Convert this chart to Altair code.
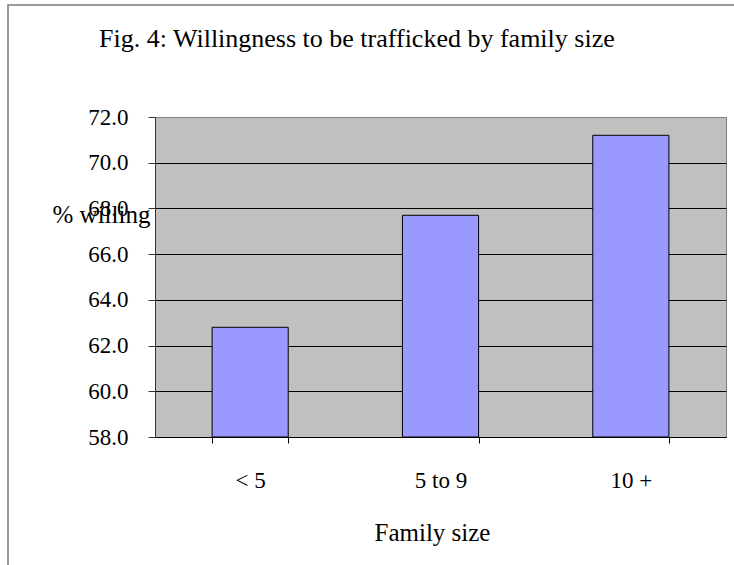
import altair as alt
import pandas as pd

categories = ["< 5", "5 to 9", "10 +"]
pct_willing = [62.8, 67.7, 71.2]
y_ticks = [58, 60, 62, 64, 66, 68, 70, 72]

df = pd.DataFrame({"size": categories, "pct": pct_willing})
FONT = "Liberation Serif"

bars = alt.Chart(df).mark_bar(
    fill="#9999FF", stroke="#000000", strokeWidth=1
).encode(
    x=alt.X("size:N", sort=categories,
            scale=alt.Scale(paddingInner=0.6, paddingOuter=0.3),
            axis=alt.Axis(title="Family size", labelAngle=0, tickBand="extent",
                          tickSize=6, tickColor="#000000", domainColor="#000000",
                          labelFontSize=23, labelPadding=26, labelFont=FONT,
                          labelColor="#000000",
                          titleFont=FONT, titleFontSize=25, titleFontWeight="normal",
                          titleColor="#000000", titleX=277, titleY=103,
                          titleBaseline="alphabetic", titleAlign="center")),
    y=alt.Y("pct:Q",
            scale=alt.Scale(domain=[58, 72], nice=False, zero=False, clamp=True),
            axis=alt.Axis(title="% willing", values=y_ticks, format=".1f",
                          grid=True,
                          gridColor=alt.condition("datum.value == 72",
                                                  alt.value("#808080"),
                                                  alt.value("#000000")),
                          gridWidth=1, tickSize=7, tickColor="#333333",
                          domainColor="#333333",
                          labelFontSize=23, labelPadding=20, labelFont=FONT,
                          labelColor="#000000",
                          titleFont=FONT, titleFontSize=25, titleFontWeight="normal",
                          titleColor="#000000", titleAngle=0, titleAlign="left",
                          titleBaseline="alphabetic", titleX=-103, titleY=105)),
)

# decorative outer frame of the figure (left and top edges visible)
frame = alt.Chart(pd.DataFrame({"k": [0]})).mark_rect(
    fill=None, stroke="#7A7A7A", strokeWidth=1.5
).encode(
    x=alt.value(-147), x2=alt.value(700),
    y=alt.value(-112), y2=alt.value(560),
)

chart = alt.layer(bars, frame).properties(
    width=571, height=320,
    autosize=alt.AutoSizeParams(type="none"),
    padding={"left": 155, "top": 117, "right": 8, "bottom": 128},
    title=alt.TitleParams(
        "Fig. 4: Willingness to be trafficked by family size",
        anchor="start", frame="group", dx=-56, offset=-69,
        baseline="alphabetic", font=FONT, fontSize=26,
        fontWeight="normal", color="#000000",
    ),
).configure(background="#FFFFFF").configure_view(
    fill="#C0C0C0", stroke="#808080", strokeWidth=1
)

chart.save("out.html", embed_options={"renderer": "svg", "actions": False})
